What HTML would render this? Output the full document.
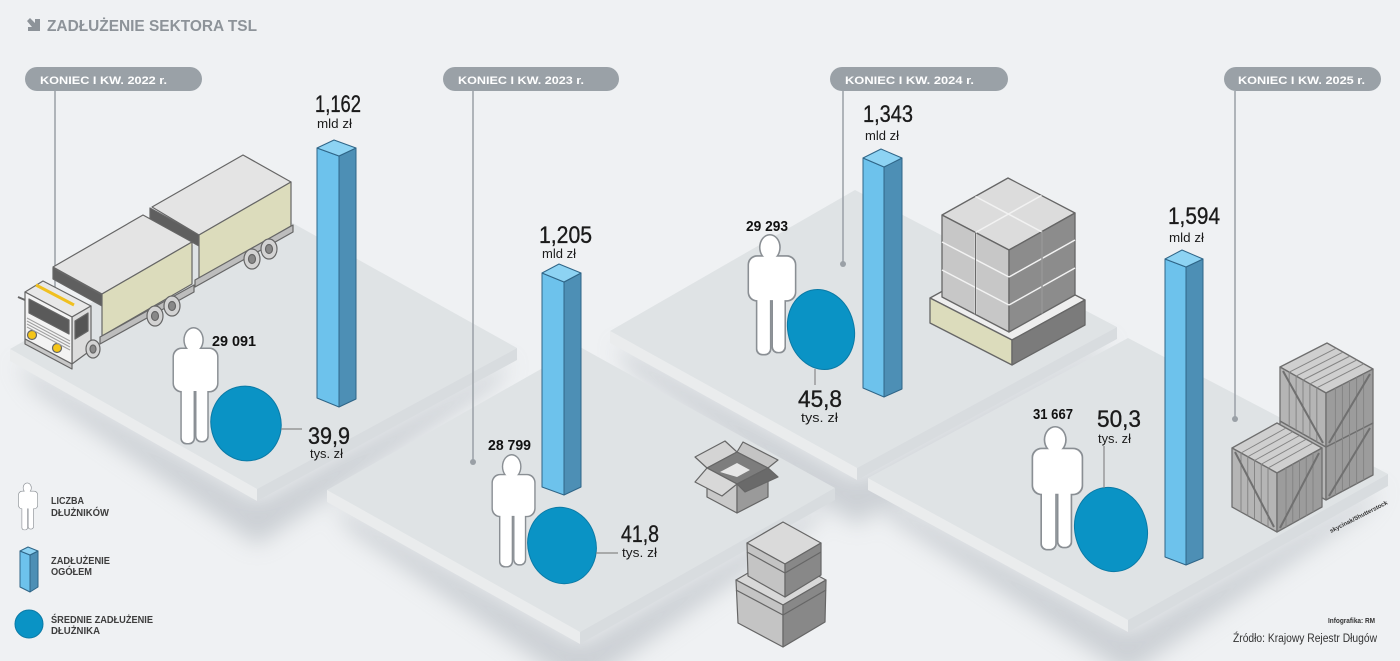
<!DOCTYPE html>
<html><head><meta charset="utf-8"><style>html,body{margin:0;padding:0;background:#eff1f3}svg{display:block}text{font-family:"Liberation Sans",Arial,sans-serif}</style></head><body>
<svg width="1400" height="661" viewBox="0 0 1400 661" xmlns="http://www.w3.org/2000/svg">
<defs>
<filter id="blur" x="-20%" y="-30%" width="140%" height="160%"><feGaussianBlur stdDeviation="11"/></filter>
<g id="person">
<g fill="#8a8f94"><ellipse cx="22" cy="12" rx="10.5" ry="13"/><rect x="0.5" y="19.5" width="47" height="45" rx="9"/><rect x="8.5" y="50" width="15" height="66.5" rx="6"/><rect x="23.5" y="50" width="14" height="64.5" rx="6"/></g>
<g fill="#ffffff"><ellipse cx="22" cy="12" rx="9" ry="11.5"/><rect x="2" y="21" width="44" height="42" rx="8"/><rect x="10" y="50" width="12" height="65" rx="5"/><rect x="25" y="50" width="11" height="63" rx="5"/></g>
</g>
</defs>
<rect width="1400" height="661" fill="#eff1f3"/>
<!-- shadows -->
<g fill="#c3c8cd" opacity="0.8" filter="url(#blur)">
<polygon points="15,361 257,501 512,360 495,385 257,545 35,390"/>
<polygon points="332,502 580,644 830,500 812,525 580,690 350,530"/>
<polygon points="615,343 857,480 1112,339 1095,364 857,525 630,370"/>
<polygon points="873,490 1128,632 1383,486 1365,511 1128,675 890,518"/>
</g>
<!-- platforms -->
<g stroke="none">
<polygon points="610,331 855,190 1117,327 857,468" fill="#dfe3e5"/>
<polygon points="610,331 857,468 857,480 610,343" fill="#eaeced"/>
<polygon points="857,468 1117,327 1117,339 857,480" fill="#d8dcdf"/>
<polygon points="10,349 262,206 517,348 257,489" fill="#dfe3e5"/>
<polygon points="10,349 257,489 257,501 10,361" fill="#eaeced"/>
<polygon points="257,489 517,348 517,360 257,501" fill="#d8dcdf"/>
<polygon points="868,478 1128,338 1388,474 1128,620" fill="#dfe3e5"/>
<polygon points="868,478 1128,620 1128,632 868,490" fill="#eaeced"/>
<polygon points="1128,620 1388,474 1388,486 1128,632" fill="#d8dcdf"/>
<polygon points="327,490 580,347 835,488 580,632" fill="#dfe3e5"/>
<polygon points="327,490 580,632 580,644 327,502" fill="#eaeced"/>
<polygon points="580,632 835,488 835,500 580,644" fill="#d8dcdf"/>
</g>
<!-- title -->
<path d="M27 21 L30 18 L35 23 L35 19 L40 19 L40 31 L28 31 L28 27 L32 27 Z" fill="#8d9399"/>
<text x="47" y="31" font-size="16" font-weight="bold" fill="#8d9399" textLength="210" lengthAdjust="spacingAndGlyphs">ZADŁUŻENIE SEKTORA TSL</text>
<!-- leader lines -->
<g stroke="#9aa0a6" stroke-width="1.5" fill="none">
<line x1="55" y1="91" x2="55" y2="290"/>
<line x1="473" y1="91" x2="473" y2="462"/>
<line x1="843" y1="91" x2="843" y2="264"/>
<line x1="1235" y1="91" x2="1235" y2="419"/>
</g>
<g fill="#9aa0a6"><circle cx="473" cy="462" r="3"/><circle cx="843" cy="264" r="3"/><circle cx="1235" cy="419" r="3"/></g>
<!-- pills -->
<g fill="#9aa1a7">
<rect x="25" y="67" width="177" height="24" rx="12"/>
<rect x="443" y="67" width="176" height="24" rx="12"/>
<rect x="830" y="67" width="178" height="24" rx="12"/>
<rect x="1224" y="67" width="157" height="24" rx="12"/>
</g>
<g font-size="11" font-weight="bold" fill="#ffffff">
<text x="40" y="84" textLength="127" lengthAdjust="spacingAndGlyphs">KONIEC I KW. 2022 r.</text>
<text x="458" y="84" textLength="126" lengthAdjust="spacingAndGlyphs">KONIEC I KW. 2023 r.</text>
<text x="845" y="84" textLength="129" lengthAdjust="spacingAndGlyphs">KONIEC I KW. 2024 r.</text>
<text x="1238" y="84" textLength="127" lengthAdjust="spacingAndGlyphs">KONIEC I KW. 2025 r.</text>
</g>
<!-- truck -->
<g stroke="#666" stroke-width="1.2" stroke-linejoin="round">
<polygon points="150,208 199,235 199,246 150,219" fill="#5f5f5f"/>
<polygon points="152,207 243,155 291,182 199,235" fill="#e4e4e4"/>
<polygon points="199,235 291,182 291,226 199,279" fill="#dcdcbc"/>
<polygon points="195,280 293,225 293,232 195,287" fill="#bdbdbd"/>
<ellipse cx="252" cy="259" rx="8" ry="10" fill="#d3d3d3"/><ellipse cx="252" cy="259" rx="3.5" ry="4.5" fill="#888"/>
<ellipse cx="269" cy="249" rx="8" ry="10" fill="#d3d3d3"/><ellipse cx="269" cy="249" rx="3.5" ry="4.5" fill="#888"/>
<polygon points="53,268 102,295 102,306 53,279" fill="#5f5f5f"/>
<polygon points="53,267 143,215 192,242 102,294" fill="#e4e4e4"/>
<polygon points="102,294 192,242 192,284 102,336" fill="#dcdcbc"/>
<polygon points="100,337 194,285 194,292 100,344" fill="#bdbdbd"/>
<ellipse cx="155" cy="316" rx="8" ry="10" fill="#d3d3d3"/><ellipse cx="155" cy="316" rx="3.5" ry="4.5" fill="#888"/>
<ellipse cx="172" cy="306" rx="8" ry="10" fill="#d3d3d3"/><ellipse cx="172" cy="306" rx="3.5" ry="4.5" fill="#888"/>
<polygon points="25,292 43,281 91,306 72,317" fill="#e8e8e8"/>
<polygon points="72,317 91,306 91,350 72,364" fill="#dcdcdc"/>
<polygon points="75,321 88,313 88,331 75,339" fill="#555"/>
<polygon points="25,292 72,317 72,364 25,339" fill="#f3f3f3"/>
<polygon points="29,299 69,320 69,334 29,313" fill="#5a5a5a"/>
<polygon points="25,339 72,364 72,369 25,344" fill="#c8c8c8"/>
<ellipse cx="93" cy="349" rx="7" ry="9" fill="#d3d3d3"/><ellipse cx="93" cy="349" rx="3" ry="4" fill="#888"/>
<circle cx="32" cy="335" r="4.5" fill="#f5c518"/>
<circle cx="57" cy="348" r="4.5" fill="#f5c518"/>
</g>
<g stroke="#a0a0a0" stroke-width="1"><line x1="27" y1="318" x2="70" y2="341"/><line x1="27" y1="321" x2="70" y2="344"/><line x1="27" y1="324" x2="70" y2="347"/><line x1="27" y1="327" x2="70" y2="350"/></g>
<line x1="36" y1="285" x2="74" y2="305" stroke="#f0c020" stroke-width="3"/>
<line x1="18" y1="297" x2="25" y2="300" stroke="#666" stroke-width="2"/>
<!-- pallet -->
<g stroke="#666" stroke-width="1.3" stroke-linejoin="round">
<polygon points="930,298 1003,258 1085,300 1012,340" fill="#eeeeee"/>
<polygon points="930,298 1012,340 1012,365 930,323" fill="#dcdcbc"/>
<polygon points="1012,340 1085,300 1085,325 1012,365" fill="#7b7b7b"/>
<polygon points="942,215 1008,178 1075,213 1009,250" fill="#dcdcdc"/>
<polygon points="942,215 1009,250 1009,332 942,297" fill="#c7c7c7"/>
<polygon points="1009,250 1075,213 1075,295 1009,332" fill="#8c8c8c"/>
</g>
<g stroke="#f2f2f2" stroke-width="1.5">
<line x1="975.5" y1="196.5" x2="1042" y2="232"/><line x1="1041.5" y1="195.5" x2="975.5" y2="232.5"/>
<line x1="975.5" y1="232.5" x2="975.5" y2="314.5"/><line x1="1042" y1="231.5" x2="1042" y2="313.5"/>
<line x1="942" y1="242" x2="1009" y2="277"/><line x1="942" y1="270" x2="1009" y2="305"/>
<line x1="1009" y1="277" x2="1075" y2="240"/><line x1="1009" y1="305" x2="1075" y2="268"/>
</g>
<g stroke="#6a6a6a" stroke-width="1">
<line x1="975.5" y1="232.5" x2="975.5" y2="314.5"/><line x1="1042" y1="231.5" x2="1042" y2="313.5"/>
</g>
<!-- open box -->
<g stroke="#666" stroke-width="1.2" stroke-linejoin="round">
<polygon points="707,468 737,452 725,441 695,457" fill="#d4d4d4"/>
<polygon points="737,452 768,468 778,460 743,442" fill="#c4c4c4"/>
<polygon points="707,468 737,452 768,468 737,484" fill="#7d7d7d"/>
<polygon points="720,472 737,463 750,470 737,477" fill="#e6e6e6" stroke="none"/>
<polygon points="707,468 737,484 737,513 707,497" fill="#c9c9c9"/>
<polygon points="737,484 768,468 768,497 737,513" fill="#9a9a9a"/>
<polygon points="707,468 737,484 722,496 695,482" fill="#d8d8d8"/>
<polygon points="737,484 768,468 778,477 745,492" fill="#6a6a6a"/>
</g>
<!-- stacked boxes -->
<g stroke="#666" stroke-width="1.2" stroke-linejoin="round">
<polygon points="736,580 779,555 826,580 783,605" fill="#d8d8d8"/>
<polygon points="736,580 783,605 783,647 738,623" fill="#c4c4c4"/>
<polygon points="783,605 826,580 825,622 783,647" fill="#888888"/>
<polygon points="747,543 783,522 821,543 785,564" fill="#dadada"/>
<polygon points="747,543 785,564 785,597 748,576" fill="#c4c4c4"/>
<polygon points="785,564 821,543 821,575 785,597" fill="#888888"/>
<line x1="747" y1="552" x2="785" y2="573"/><line x1="785" y1="573" x2="821" y2="552"/>
<line x1="736" y1="590" x2="783" y2="615"/><line x1="783" y1="615" x2="826" y2="590"/>
</g>
<!-- crates -->
<g stroke="#6e6e6e" stroke-width="1.3" stroke-linejoin="round">
<polygon points="1280,421 1326,447 1326,500 1280,474" fill="#b5b5b5"/>
<polygon points="1326,447 1373,423 1373,475 1326,500" fill="#9c9c9c"/>
<polygon points="1280,367 1327,343 1373,369 1326,393" fill="#cfcfcf"/>
<polygon points="1280,367 1326,393 1326,447 1280,421" fill="#b5b5b5"/>
<polygon points="1326,393 1373,369 1373,423 1326,447" fill="#9c9c9c"/>
</g>
<g stroke="#858585" stroke-width="1">
<line x1="1289.2" y1="372.2" x2="1336.2" y2="348.2"/><line x1="1296.1" y1="376.1" x2="1343.1" y2="352.1"/><line x1="1303" y1="380" x2="1350" y2="356"/><line x1="1309.9" y1="383.9" x2="1356.9" y2="359.9"/><line x1="1316.8" y1="387.8" x2="1363.8" y2="363.8"/>
<line x1="1289.2" y1="372.2" x2="1289.2" y2="426.2"/><line x1="1296.1" y1="376.1" x2="1296.1" y2="430.1"/><line x1="1303" y1="380" x2="1303" y2="434"/><line x1="1309.9" y1="383.9" x2="1309.9" y2="437.9"/><line x1="1316.8" y1="387.8" x2="1316.8" y2="441.8"/>
<line x1="1335.4" y1="388.2" x2="1335.4" y2="442.2"/><line x1="1342.45" y1="384.6" x2="1342.45" y2="438.6"/><line x1="1349.5" y1="381" x2="1349.5" y2="435"/><line x1="1356.55" y1="377.4" x2="1356.55" y2="431.4"/><line x1="1363.6" y1="373.8" x2="1363.6" y2="427.8"/>
<line x1="1335.4" y1="442.2" x2="1335.4" y2="495"/><line x1="1342.45" y1="438.6" x2="1342.45" y2="491.25"/><line x1="1349.5" y1="435" x2="1349.5" y2="487.5"/><line x1="1356.55" y1="431.4" x2="1356.55" y2="483.75"/><line x1="1363.6" y1="427.8" x2="1363.6" y2="480"/>
</g>
<g stroke="#707070" stroke-width="2"><line x1="1283" y1="371" x2="1323" y2="443"/><line x1="1329" y1="443" x2="1370" y2="374"/><line x1="1329" y1="496" x2="1370" y2="428"/></g>
<g stroke="#6e6e6e" stroke-width="1.3" stroke-linejoin="round">
<polygon points="1232,448 1277,423 1322,448 1277,473" fill="#cfcfcf"/>
<polygon points="1232,448 1277,473 1277,532 1232,507" fill="#b5b5b5"/>
<polygon points="1277,473 1322,448 1322,507 1277,532" fill="#9c9c9c"/>
</g>
<g stroke="#858585" stroke-width="1">
<line x1="1241" y1="453" x2="1286" y2="428"/><line x1="1247.75" y1="456.75" x2="1292.75" y2="431.75"/><line x1="1254.5" y1="460.5" x2="1299.5" y2="435.5"/><line x1="1261.25" y1="464.25" x2="1306.25" y2="439.25"/><line x1="1268" y1="468" x2="1313" y2="443"/>
<line x1="1241" y1="453" x2="1241" y2="512"/><line x1="1247.75" y1="456.75" x2="1247.75" y2="515.75"/><line x1="1254.5" y1="460.5" x2="1254.5" y2="519.5"/><line x1="1261.25" y1="464.25" x2="1261.25" y2="523.25"/><line x1="1268" y1="468" x2="1268" y2="527"/>
<line x1="1286" y1="468" x2="1286" y2="527"/><line x1="1292.75" y1="464.25" x2="1292.75" y2="523.25"/><line x1="1299.5" y1="460.5" x2="1299.5" y2="519.5"/><line x1="1306.25" y1="456.75" x2="1306.25" y2="515.75"/><line x1="1313" y1="453" x2="1313" y2="512"/>
</g>
<g stroke="#707070" stroke-width="2"><line x1="1235" y1="452" x2="1274" y2="527"/><line x1="1280" y1="528" x2="1319" y2="453"/></g>
<text x="0" y="0" font-size="6" font-weight="bold" fill="#333" transform="translate(1331,533) rotate(-27)" textLength="64" lengthAdjust="spacingAndGlyphs">skycinak/Shutterstock</text>
<!-- persons & circles -->
<use href="#person" transform="translate(172,328) scale(0.98,1)"/>
<use href="#person" transform="translate(491,455) scale(0.94,0.966)"/>
<use href="#person" transform="translate(747,235) scale(1.04,1.034)"/>
<use href="#person" transform="translate(1031,427) scale(1.1,1.06)"/>
<use href="#person" transform="translate(18,483) scale(0.42,0.405)"/>
<g fill="#0a93c5" stroke="#0a7aa6" stroke-width="1">
<ellipse cx="246" cy="423.5" rx="35" ry="37.5" transform="rotate(-15 246 423.5)"/>
<ellipse cx="562" cy="545.5" rx="34" ry="38.5" transform="rotate(-15 562 545.5)"/>
<ellipse cx="821" cy="329.5" rx="33" ry="40.5" transform="rotate(-15 821 329.5)"/>
<ellipse cx="1111" cy="529.5" rx="36" ry="42.5" transform="rotate(-15 1111 529.5)"/>
<circle cx="29" cy="624" r="14"/>
</g>
<g stroke="#888" stroke-width="1.2">
<line x1="281" y1="429" x2="302" y2="429"/>
<line x1="596" y1="553" x2="618" y2="553"/>
<line x1="815" y1="369" x2="815" y2="385"/>
<line x1="1104" y1="446" x2="1104" y2="488"/>
</g>
<!-- bars -->
<g stroke="#2f6587" stroke-width="1" stroke-linejoin="round">
<polygon points="317,148 339,156 339,407 317,398" fill="#6dc2ec"/><polygon points="339,156 356,148 356,399 339,407" fill="#4d8fb5"/><polygon points="317,148 334,140 356,148 339,156" fill="#8dd3f3"/>
<polygon points="542,273 564,282 564,495 542,487" fill="#6dc2ec"/><polygon points="564,282 581,273 581,487 564,495" fill="#4d8fb5"/><polygon points="542,273 559,264 581,273 564,282" fill="#8dd3f3"/>
<polygon points="863,158 884,167 884,397 863,388" fill="#6dc2ec"/><polygon points="884,167 902,158 902,389 884,397" fill="#4d8fb5"/><polygon points="863,158 881,149 902,158 884,167" fill="#8dd3f3"/>
<polygon points="1165,259 1186,267 1186,565 1165,557" fill="#6dc2ec"/><polygon points="1186,267 1203,259 1203,558 1186,565" fill="#4d8fb5"/><polygon points="1165,259 1182,250 1203,259 1186,267" fill="#8dd3f3"/>
<polygon points="20,551 30,555 30,592 20,587" fill="#6dc2ec"/><polygon points="30,555 38,551 38,587 30,592" fill="#4d8fb5"/><polygon points="20,551 28,547 38,551 30,555" fill="#8dd3f3"/>
</g>
<!-- values -->
<g fill="#1b1b1b" stroke="#1b1b1b" stroke-width="0.35" font-size="24">
<text x="315" y="112" textLength="46" lengthAdjust="spacingAndGlyphs">1,162</text>
<text x="539" y="243" textLength="53" lengthAdjust="spacingAndGlyphs">1,205</text>
<text x="863" y="122" textLength="50" lengthAdjust="spacingAndGlyphs">1,343</text>
<text x="1168" y="224" textLength="52" lengthAdjust="spacingAndGlyphs">1,594</text>
<text x="308" y="444" textLength="42" lengthAdjust="spacingAndGlyphs">39,9</text>
<text x="621" y="542" textLength="38" lengthAdjust="spacingAndGlyphs">41,8</text>
<text x="798" y="407" textLength="44" lengthAdjust="spacingAndGlyphs">45,8</text>
<text x="1097" y="427" textLength="44" lengthAdjust="spacingAndGlyphs">50,3</text>
</g>
<g fill="#1b1b1b" font-size="13">
<text x="317" y="128" textLength="35" lengthAdjust="spacingAndGlyphs">mld zł</text>
<text x="542" y="258" textLength="34" lengthAdjust="spacingAndGlyphs">mld zł</text>
<text x="865" y="140" textLength="34" lengthAdjust="spacingAndGlyphs">mld zł</text>
<text x="1169" y="242" textLength="35" lengthAdjust="spacingAndGlyphs">mld zł</text>
<text x="310" y="458" textLength="33" lengthAdjust="spacingAndGlyphs">tys. zł</text>
<text x="622" y="557" textLength="35" lengthAdjust="spacingAndGlyphs">tys. zł</text>
<text x="801" y="422" textLength="37" lengthAdjust="spacingAndGlyphs">tys. zł</text>
<text x="1098" y="443" textLength="33" lengthAdjust="spacingAndGlyphs">tys. zł</text>
</g>
<g fill="#111" font-size="15" font-weight="bold">
<text x="212" y="346" textLength="44" lengthAdjust="spacingAndGlyphs">29 091</text>
<text x="488" y="450" textLength="43" lengthAdjust="spacingAndGlyphs">28 799</text>
<text x="746" y="231" textLength="42" lengthAdjust="spacingAndGlyphs">29 293</text>
<text x="1033" y="419" textLength="40" lengthAdjust="spacingAndGlyphs">31 667</text>
</g>
<!-- legend -->
<g fill="#3d3d3d" font-size="10" font-weight="bold">
<text x="51" y="504" textLength="33" lengthAdjust="spacingAndGlyphs">LICZBA</text>
<text x="51" y="516" textLength="58" lengthAdjust="spacingAndGlyphs">DŁUŻNIKÓW</text>
<text x="51" y="564" textLength="59" lengthAdjust="spacingAndGlyphs">ZADŁUŻENIE</text>
<text x="51" y="575" textLength="41" lengthAdjust="spacingAndGlyphs">OGÓŁEM</text>
<text x="51" y="623" textLength="102" lengthAdjust="spacingAndGlyphs">ŚREDNIE ZADŁUŻENIE</text>
<text x="51" y="634" textLength="49" lengthAdjust="spacingAndGlyphs">DŁUŻNIKA</text>
</g>
<!-- footer -->
<text x="1328" y="623" font-size="7" font-weight="bold" fill="#333" textLength="47" lengthAdjust="spacingAndGlyphs">Infografika: RM</text>
<text x="1233" y="642" font-size="11.5" fill="#333" textLength="144" lengthAdjust="spacingAndGlyphs">Źródło: Krajowy Rejestr Długów</text>
</svg>
</body></html>
